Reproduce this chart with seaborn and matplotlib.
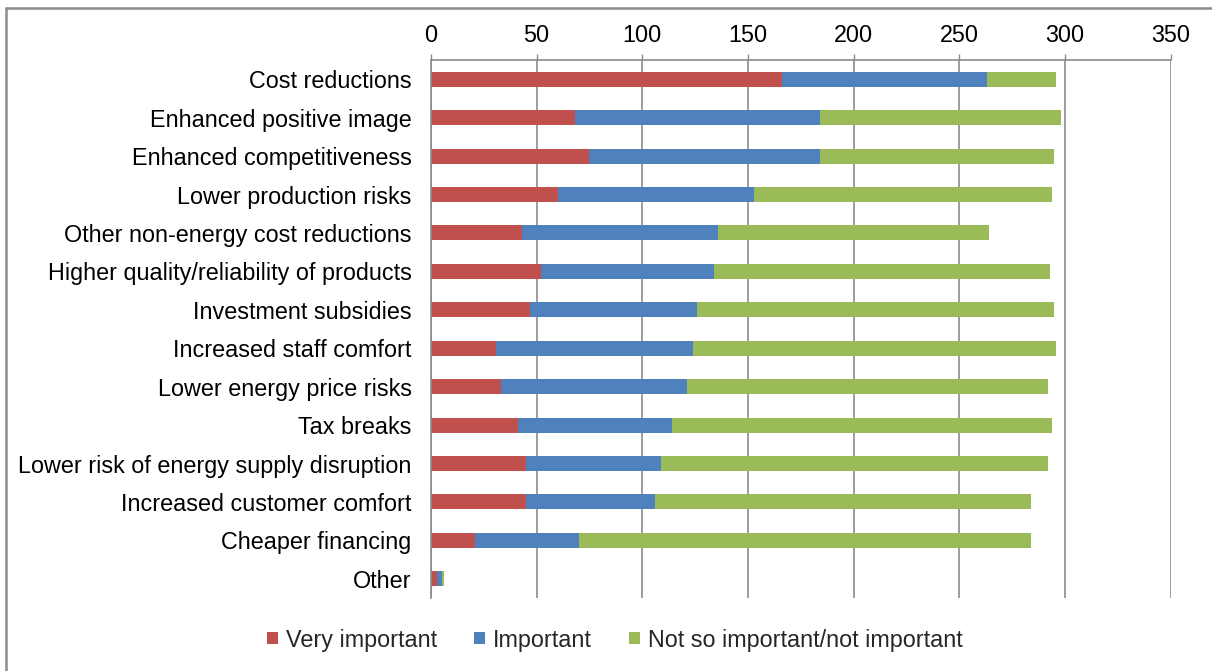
import numpy as np
import pandas as pd
import matplotlib
matplotlib.use("Agg")
import matplotlib.pyplot as plt
import seaborn as sns
from matplotlib.lines import Line2D
from matplotlib.patches import Patch

categories = [
    "Cost reductions",
    "Enhanced positive image",
    "Enhanced competitiveness",
    "Lower production risks",
    "Other non-energy cost reductions",
    "Higher quality/reliability of products",
    "Investment subsidies",
    "Increased staff comfort",
    "Lower energy price risks",
    "Tax breaks",
    "Lower risk of energy supply disruption",
    "Increased customer comfort",
    "Cheaper financing",
    "Other",
]
very_important = [166, 68, 75, 60, 43, 52, 47, 31, 33, 41, 45, 45, 21, 3]
important = [97, 116, 109, 93, 93, 82, 79, 93, 88, 73, 64, 61, 49, 2]
not_important = [33, 114, 111, 141, 128, 159, 169, 172, 171, 180, 183, 178, 214, 1]
x_ticks = [0, 50, 100, 150, 200, 250, 300, 350]

series_names = ["Very important", "Important", "Not so important/not important"]
colors = ["#C0504D", "#4F81BD", "#9BBB59"]

df = pd.DataFrame({
    "category": categories,
    "very": very_important,
    "imp": important,
    "not": not_important,
})
df["cum_very"] = df["very"]
df["cum_imp"] = df["very"] + df["imp"]
df["cum_all"] = df["cum_imp"] + df["not"]

sns.set_theme(style="white")
plt.rcParams["font.family"] = ["Liberation Sans", "DejaVu Sans"]

FS = 16.8
GRID = "#8c8c8c"

fig = plt.figure(figsize=(12.12, 6.71), dpi=100)
ax = fig.add_axes([431 / 1212, 1 - 598 / 671, (1170.5 - 431) / 1212, (598 - 60) / 671])

# stacked horizontal bars: draw cumulative totals from longest to shortest
for col, c in zip(["cum_all", "cum_imp", "cum_very"], colors[::-1]):
    sns.barplot(data=df, x=col, y="category", color=c, width=0.39,
                orient="h", ax=ax, saturation=1, edgecolor="none")

ax.set_xlim(0, 350)
ax.set_ylim(len(categories) - 0.5, -0.5)
ax.set_xticks(x_ticks)
ax.xaxis.tick_top()
ax.tick_params(axis="x", length=4, width=1, color=GRID, direction="out",
               labelsize=FS, pad=5, labelcolor="#000000")
ax.set_yticks(range(len(categories)))
ax.set_yticklabels(categories)
ax.tick_params(axis="y", length=0, labelsize=FS, pad=14, labelcolor="#000000")
ax.set_xlabel("")
ax.set_ylabel("")

ax.grid(axis="x", color=GRID, linewidth=1.2)
ax.set_axisbelow(True)

# category boundary ticks on the left spine
ax.set_yticks(np.arange(-0.5, len(categories) + 0.5, 1), minor=True)
ax.tick_params(axis="y", which="minor", length=6, width=1, color=GRID, direction="out")

for side in ["right", "bottom"]:
    ax.spines[side].set_visible(False)
for side in ["left", "top"]:
    ax.spines[side].set_color(GRID)
    ax.spines[side].set_linewidth(1.2)

handles = [Patch(facecolor=c, edgecolor="none") for c in colors]
fig.legend(handles, series_names, loc="center", bbox_to_anchor=(615 / 1212, 1 - 640 / 671),
           ncol=3, frameon=False, fontsize=FS, handlelength=0.45, handleheight=0.45,
           handletextpad=0.35, columnspacing=1.6)

# chart frame edges (top and left)
fig.add_artist(Line2D([5.5 / 1212, 5.5 / 1212], [0, 1 - 7.5 / 671], transform=fig.transFigure,
                      color=GRID, linewidth=1.8))
fig.add_artist(Line2D([5.5 / 1212, 1], [1 - 7.5 / 671, 1 - 7.5 / 671], transform=fig.transFigure,
                      color=GRID, linewidth=1.8))

fig.savefig("out.png", dpi=100)
